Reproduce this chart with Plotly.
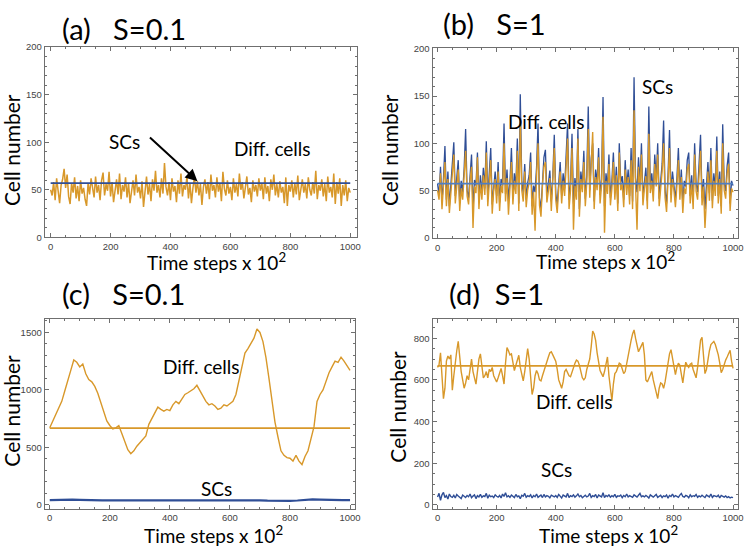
import plotly.graph_objects as go

W, H = 753, 553

# ---------------- data ----------------
t5 = list(range(0, 1001, 5))
t10 = list(range(0, 1001, 10))
t25 = list(range(0, 1001, 25))

a_diff = [50,44,58,39,62,47,36,55,61,72,52,66,43,35,57,47,63,41,54,38,
          60,46,52,40,33,57,45,62,50,42,64,47,55,39,60,68,44,56,49,69,
          43,58,37,52,61,45,67,40,55,48,63,42,57,36,51,60,44,66,47,53,
          41,59,32,50,64,45,56,38,61,49,70,47,55,42,62,46,78,53,44,58,
          39,62,48,54,37,60,46,67,43,55,50,64,41,57,36,52,63,47,59,44,
          56,34,53,61,46,58,40,66,49,55,42,63,48,57,38,69,51,44,60,46,
          53,39,62,47,56,43,67,50,58,41,54,64,45,52,37,60,48,55,43,62,
          49,57,40,63,46,54,38,61,50,66,44,56,42,59,47,53,36,63,33,55,
          48,60,42,57,45,65,39,52,61,47,56,41,63,50,44,58,46,70,40,55,
          49,61,43,56,38,64,47,53,42,67,35,58,46,62,33,55,44,60,38,52,
          47]
a_sc_level = 57

b_sc = [57,45,75,38,62,97,40,70,33,58,72,101,44,65,82,36,60,48,73,115,
        50,42,68,88,30,61,55,90,38,66,47,74,52,102,41,63,95,35,57,70,
        44,80,37,62,55,121,46,72,39,59,95,43,68,54,105,36,152,60,47,78,
        40,58,66,90,33,55,48,74,121,42,30,62,85,93,45,57,71,38,64,109,
        47,35,60,80,44,68,52,90,121,40,57,110,36,63,48,115,30,70,55,92,
        41,66,139,50,84,100,38,72,58,95,45,62,149,33,68,54,88,42,60,90,
        47,75,36,100,58,65,40,82,53,72,44,95,38,170,63,48,85,57,100,42,
        60,74,39,139,55,68,46,88,62,100,41,57,78,124,50,36,66,114,45,70,
        58,40,63,95,48,72,35,60,54,82,90,44,66,38,100,57,48,74,109,42,
        62,30,55,80,47,95,39,68,52,107,44,70,33,120,58,49,76,90,36,60,
        55]
b_diff = [50,40,68,30,55,80,33,62,26,50,65,88,36,58,72,28,52,40,65,92,
          44,35,60,75,10,54,47,85,30,58,40,66,45,90,33,56,82,25,50,62,
          36,70,28,55,47,100,38,63,24,52,80,35,60,46,92,28,125,50,38,70,
          32,50,58,80,24,48,7,65,100,34,22,55,75,80,37,49,63,28,56,95,
          40,26,52,70,36,60,44,78,105,30,50,95,8,55,40,105,22,62,48,80,
          33,58,115,42,75,112,30,64,50,85,36,55,128,5,60,46,78,34,52,80,
          40,66,28,90,50,57,32,72,45,64,35,82,30,135,55,8,75,49,88,34,
          52,65,30,110,47,60,38,78,54,88,33,49,70,100,42,27,58,95,37,62,
          50,32,55,82,40,64,26,52,46,72,78,36,58,30,88,49,40,66,92,34,
          54,10,47,70,39,82,31,60,44,92,36,62,25,100,50,41,68,78,28,52,
          48]
b_sc_mean = 57

c_diff = [670,728,790,840,900,990,1090,1170,1260,1240,
          1200,1225,1140,1090,1070,1030,970,890,820,730,
          690,660,670,690,620,540,480,445,470,510,
          540,565,600,700,750,800,850,830,815,830,
          820,870,900,880,925,960,975,990,1010,1040,
          990,950,900,870,880,860,830,840,870,860,
          880,900,960,1080,1230,1320,1360,1400,1450,1530,
          1500,1420,1280,1100,900,720,590,470,430,410,
          405,380,430,380,350,420,470,580,680,900,
          960,1000,1080,1150,1200,1250,1240,1285,1250,1210,
          1170]
c_sc = [40,43,46,45,43,40,39,39,38,38,38,40,41,42,40,39,39,40,42,44,
        43,41,40,41,43,42,43,41,39,36,34,33,34,37,42,47,45,42,41,40,40]
c_diff_mean = 667

d_diff = [660,672,730,600,510,560,690,715,700,720,550,620,690,740,785,700,640,600,560,585,
          620,600,660,700,640,600,580,640,700,725,660,610,620,640,610,650,640,660,620,600,
          590,610,640,655,620,580,680,755,740,720,725,690,645,670,700,718,660,620,595,640,
          700,750,700,600,530,560,620,645,630,600,595,620,645,665,690,710,730,735,720,705,
          690,650,600,580,560,590,640,650,630,620,615,640,660,680,695,690,670,640,610,600,
          610,650,680,700,760,835,820,790,730,680,645,630,615,640,680,710,620,540,500,580,
          630,640,660,680,675,650,630,640,680,720,745,790,820,840,800,760,735,750,765,780,
          720,600,590,610,630,640,600,570,540,510,560,585,580,560,590,640,700,725,745,700,
          650,625,660,680,670,620,585,640,685,670,660,675,680,650,630,610,660,740,790,805,
          720,630,650,700,740,770,780,785,770,745,720,680,635,650,675,695,710,725,742,690,
          655]
d_sc = [38,55,22,48,60,35,44,28,52,40,36,46,33,50,42,38,30,47,41,35,
        45,39,52,34,42,48,30,44,38,50,36,43,40,55,32,46,39,42,35,48,
        41,37,45,33,52,40,58,38,44,36,47,42,35,50,39,43,30,46,41,55,
        37,44,40,48,33,45,39,52,36,42,47,35,50,38,44,41,34,46,40,38,
        45,36,50,40,33,47,42,38,55,35,44,40,48,37,43,52,39,45,34,41,
        46,38,42,55,36,44,40,50,33,47,41,38,58,35,45,40,48,37,44,39,
        50,36,43,41,47,34,45,39,52,38,44,40,36,48,42,37,46,55,39,43,
        38,45,40,33,48,42,37,44,50,36,41,46,35,43,39,47,32,45,40,52,
        38,44,41,36,47,55,40,37,45,42,34,48,39,44,41,50,36,43,38,46,
        40,35,47,42,38,52,36,44,41,39,46,33,45,40,37,43,35,39,33,37,
        35]
d_diff_mean = 667

x_ticks = [0, 200, 400, 600, 800, 1000]
titles = ["(a)   S=0.1", "(b)   S=1", "(c)   S=0.1", "(d)  S=1"]

ORANGE = "#D8982A"
BLUE = "#2F4E96"
BLUE_L = "#4F7EC2"

fig = go.Figure()

def tr(x, y, ax, color, width):
    fig.add_trace(go.Scatter(x=x, y=y, mode="lines", xaxis="x" + ax, yaxis="y" + ax,
                             line=dict(color=color, width=width), showlegend=False,
                             hoverinfo="skip"))

# (a)
tr(t5, a_diff, "", ORANGE, 1.5)
tr([0, 1000], [a_sc_level, a_sc_level], "", BLUE, 1.6)
# (b)
tr(t5, b_sc, "2", BLUE, 1.3)
tr(t5, b_diff, "2", ORANGE, 1.4)
tr([0, 1000], [b_sc_mean, b_sc_mean], "2", BLUE_L, 1.8)
# (c)
tr(t10, c_diff, "3", ORANGE, 1.4)
tr([0, 1000], [c_diff_mean, c_diff_mean], "3", ORANGE, 1.6)
tr(t25, c_sc, "3", BLUE, 2.2)
# (d)
tr(t5, d_diff, "4", ORANGE, 1.4)
tr([0, 1000], [d_diff_mean, d_diff_mean], "4", ORANGE, 1.6)
tr(t5, d_sc, "4", BLUE, 1.4)

def px(a, b):
    return [a / W, b / W]

def py(top, bot):
    return [1 - bot / H, 1 - top / H]

tickfont = dict(family="Liberation Sans, Arial", size=9.5, color="#444")
common = dict(showgrid=False, zeroline=False, showline=True, linecolor="#6f6f6f",
              linewidth=1, mirror="ticks", ticks="inside", ticklen=4, tickcolor="#6f6f6f",
              tickfont=tickfont, ticklabeloverflow="allow")

def xa(dom, rng, anchor):
    return dict(domain=dom, range=rng, anchor=anchor, tickvals=x_ticks,
                minor=dict(dtick=50, tick0=0, ticks="inside", ticklen=2, tickcolor="#6f6f6f"),
                **common)

def ya(dom, rng, anchor, dt, mdt):
    return dict(domain=dom, range=rng, anchor=anchor, dtick=dt, tick0=0,
                minor=dict(dtick=mdt, tick0=0, ticks="inside", ticklen=2, tickcolor="#6f6f6f"),
                **common)

fig.update_layout(
    width=W, height=H, margin=dict(l=0, r=0, t=0, b=0),
    paper_bgcolor="white", plot_bgcolor="white",
    xaxis=xa(px(45, 360), [-20, 1023], "y"),
    yaxis=ya(py(42, 236), [0, 200], "x", 50, 10),
    xaxis2=xa(px(436, 744), [-17, 1017], "y2"),
    yaxis2=ya(py(43, 237), [-1, 201], "x2", 50, 10),
    xaxis3=xa(px(45, 358), [-17, 1017], "y3"),
    yaxis3=ya(py(319, 513), [-35, 1620], "x3", 500, 100),
    xaxis4=xa(px(436, 744), [-17, 1017], "y4"),
    yaxis4=ya(py(319, 513), [-19, 894], "x4", 200, 50),
)

TF = "Lato, Open Sans, sans-serif"
ann = []
def pa(text, x, y, size, angle=0):
    ann.append(dict(text=text, x=x / W, y=1 - y / H, xref="paper", yref="paper",
                    showarrow=False, textangle=angle, xanchor="center", yanchor="middle",
                    font=dict(family=TF, size=size, color="black")))

# panel titles
pa(titles[0], 125, 23, 29)
pa(titles[1], 498, 18, 29)
pa(titles[2], 124, 293, 29)
pa(titles[3], 500, 293, 29)
# axis titles
xt = "Time steps x 10<sup>2</sup>"
pa(xt, 218, 261, 19)
pa(xt, 610, 260, 19)
pa(xt, 215, 539, 19)
pa(xt, 613, 539, 19)
pa("Cell number", 11, 147, 21, -90)
pa("Cell number", 392, 147, 21, -90)
pa("Cell number", 12, 413, 21, -90)
pa("Cell number", 401, 409, 21, -90)

def da(text, x, y, ax):
    ann.append(dict(text=text, x=x, y=y, xref="x" + ax, yref="y" + ax, showarrow=False,
                    xanchor="center", yanchor="middle",
                    font=dict(family=TF, size=19, color="black")))

da("SCs", 245, 101, "")
da("Diff. cells", 742, 93, "")
da("SCs", 745, 160, "2")
da("Diff. cells", 369, 123, "2")
da("Diff. cells", 505, 1200, "3")
da("SCs", 554, 142, "3")
da("Diff. cells", 463, 495, "4")
da("SCs", 403, 169, "4")

# arrow in (a)
ann.append(dict(x=490, y=59, xref="x", yref="y", ax=-49, ay=-45, axref="pixel", ayref="pixel",
                text="", showarrow=True, arrowhead=2, arrowsize=1.2, arrowwidth=2,
                arrowcolor="black"))

fig.update_layout(annotations=ann)
fig.write_html("out.html", config={"displayModeBar": False},
               post_script="document.body.style.margin='0';")
